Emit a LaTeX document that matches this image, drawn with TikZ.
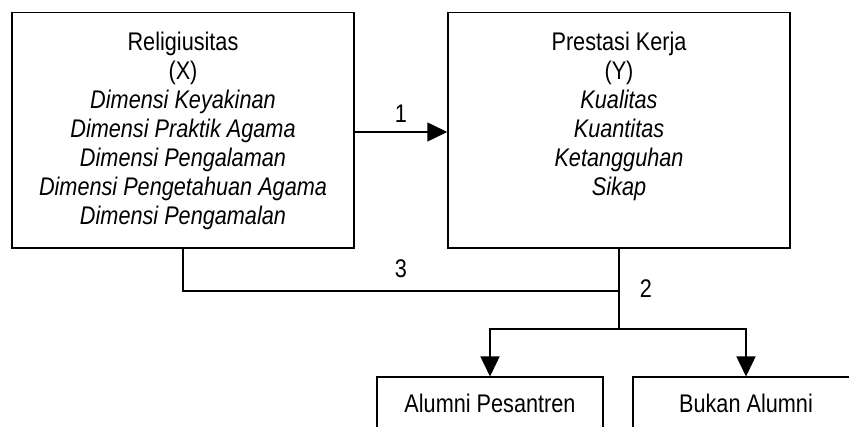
\documentclass[tikz,border=0pt]{standalone}
\usepackage{fontspec}
\setmainfont{Liberation Sans}[FakeStretch=0.85]
\usepackage{tikz}
\usetikzlibrary{arrows.meta,positioning}

\begin{document}
\begin{tikzpicture}[x=1pt,y=-1pt,
  line width=1.5pt,
  >={Triangle[length=20pt,width=19pt]},
  box/.style = {shape=rectangle, draw, line width=1.5pt},
  txt/.style = {align=center, inner sep=0pt,
    font=\fontsize{25.5}{29}\selectfont},
  lbl/.style = {inner sep=0pt, font=\fontsize{25.5}{29}\selectfont},
 ]
 \useasboundingbox (0,0) rectangle (849,427);
 \clip (0,0) rectangle (849,427);
 % upper boxes
 \node[box, minimum width=342pt, minimum height=235.5pt] (relig) at (183,130.25) {};
 \node[box, minimum width=342pt, minimum height=235.5pt] (prest) at (619,130.25) {};
 \node[txt, anchor=north] (religtext) at ([yshift=-20pt]relig.north)
   {Religiusitas\\(X)\\\textit{Dimensi Keyakinan}\\\textit{Dimensi Praktik Agama}\\
    \textit{Dimensi Pengalaman}\\\textit{Dimensi Pengetahuan Agama}\\\textit{Dimensi Pengamalan}};
 \node[txt, anchor=north] (presttext) at ([yshift=-20pt]prest.north)
   {Prestasi Kerja\\(Y)\\\textit{Kualitas}\\\textit{Kuantitas}\\\textit{Ketangguhan}\\\textit{Sikap}};
 % lower boxes
 \node[box, txt, minimum width=226pt, minimum height=52pt, anchor=north] (alumni) at (490,376.5) {Alumni Pesantren};
 \node[box, txt, minimum width=226pt, minimum height=52pt, anchor=north] (bukan) at (746,376.5) {Bukan Alumni};
 % connectors
 \coordinate (join) at (prest.south |- 0,291);
 \coordinate (split) at (prest.south |- 0,329);
 \draw[->] (relig.east |- 0,132) -- (prest.west |- 0,132)
   node[lbl, midway, above=9pt] (one) {1};
 \draw (relig.south) |- (join) node[lbl, pos=0.75, above=12.5pt] (three) {3};
 \draw (prest.south) -- (split) node[lbl, pos=0.5, right=20pt] (two) {2};
 \draw[->] (split) -| (alumni.north);
 \draw[->] (split) -| (bukan.north);
\end{tikzpicture}
\end{document}
